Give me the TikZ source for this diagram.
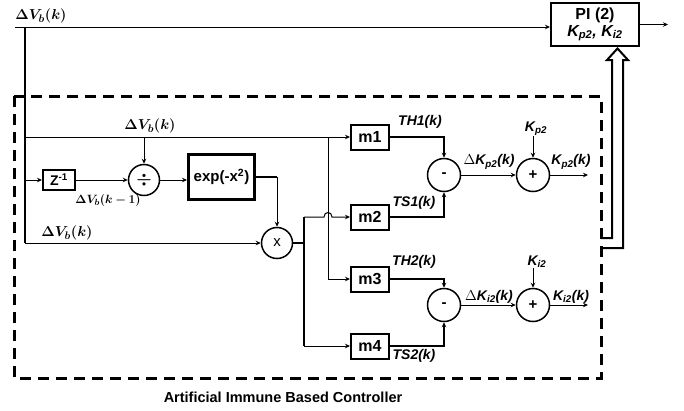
\documentclass[tikz,border=0pt]{standalone}
\usepackage{amsmath}
\usepackage{bm}
\usepackage{fontspec}
\setmainfont{Liberation Sans}
\usepackage{tikz}
\usetikzlibrary{
  positioning,
  arrows.meta,
  calc
}

\begin{document}
\begin{tikzpicture}[
    x=1pt, y=-1pt,
    >={Stealth[length=5pt, width=4.5pt]},
    blk/.style={draw, line width=2pt, minimum width=38pt, minimum height=25pt, inner sep=0pt,
        font=\fontsize{16}{18}\selectfont\bfseries},
    sumc/.style={draw, circle, line width=1.5pt, minimum size=31pt, inner sep=0pt,
        font=\fontsize{15}{16}\selectfont},
    lbl/.style={inner sep=0pt, font=\fontsize{14}{16}\selectfont\bfseries\itshape},
    mlbl/.style={inner sep=0pt, font=\fontsize{15}{16}\selectfont},
    wire/.style={line width=1pt},
    mout/.style={line width=1.6pt},
    bus/.style={line width=2pt}
]
    \useasboundingbox (0,0) rectangle (684,410);

    % 虚线框
    \coordinate (dbNW) at (14,96);
    \coordinate (dbSE) at (601,378);
    \draw[line width=3pt, dash pattern=on 11pt off 7pt] (dbNW) rectangle (dbSE);
    \node[font=\fontsize{14.5}{16}\selectfont\bfseries] (cap) at (283,397) {Artificial Immune Based Controller};

    % PI 控制器
    \node[blk, minimum width=88pt, minimum height=43pt, align=center] (pi) at (595,24.5)
        {PI (2)\\[-1pt]{\itshape K\textsubscript{p2}, K\textsubscript{i2}}};
    \coordinate (inT) at (15,27);
    \coordinate (cT) at (25,27);
    \coordinate (cB) at (25,243);
    \coordinate (out) at (668,24.5);
    \node[mlbl] (vtop) at (41,16) {$\bm{\Delta V_b(k)}$};
    \draw[wire,->] (inT) -- (inT -| pi.west);
    \draw[wire,->] (pi.east) -- (out);
    \draw[bus] (cT) -- (cB);

    % 方块与求和点
    \node[blk, minimum width=32pt, minimum height=20pt, font=\fontsize{14}{16}\selectfont\bfseries] (z) at (59,180) {Z\textsuperscript{-1}};
    \node[sumc] (dv) at (144,180) {\fontsize{19}{20}\selectfont$\bm{\div}$};
    \node[blk, line width=3pt, minimum width=66pt, minimum height=45pt, font=\fontsize{15}{16}\selectfont\bfseries] (ex) at (221.5,177) {exp(-x\textsuperscript{2})};
    \node[sumc] (mul) at (277,243) {x};
    \node[blk] (m1) at (370,137) {m1};
    \node[blk] (m2) at (370,217) {m2};
    \node[blk] (m3) at (370,279) {m3};
    \node[blk] (m4) at (370,346) {m4};
    \node[sumc, minimum size=33pt] (d1) at (444,175) {\bfseries -};
    \node[sumc, minimum size=33pt] (s1) at (533,175) {\bfseries +};
    \node[sumc, minimum size=33pt] (d2) at (444,305) {\bfseries -};
    \node[sumc, minimum size=33pt] (s2) at (533,305) {\bfseries +};

    % 输入信号
    \coordinate (b2) at (328,137);
    \node[mlbl] (v3) at (150,126) {$\bm{\Delta V_b(k)}$};
    \node[mlbl] (v2) at (67,233) {$\bm{\Delta V_b(k)}$};
    \node[mlbl, font=\fontsize{12.5}{14}\selectfont] (v1) at (108,200) {$\bm{\Delta V_b(k-1)}$};
    \draw[wire,->] (cT |- m1) -- (m1.west);
    \draw[wire,->] (dv.north |- m1) -- (dv.north);
    \draw[wire,->] (b2) -- (b2 |- m3) -- (m3.west);
    \draw[wire,->] (cT |- z) -- (z.west);
    \draw[wire,->] (z) -- (dv);
    \draw[wire,->] (dv.east) -- (dv.east -| ex.west);
    \draw[bus] (ex.east) -- (ex.east -| mul.north) coordinate (ec);
    \draw[wire,->] (ec) -- (mul.north);
    \draw[wire,->] (cB) -- (mul.west);

    % 乘法器输出
    \coordinate (j) at (304,243);
    \draw[bus] (mul.east) -- (j);
    \draw[bus] (j |- m2) -- (j |- m4);
    \draw[wire,->] (j |- m4) -- (m4.west);
    \draw[wire,->] (j |- m2) -- ($(b2 |- m2)+(-4,0)$) .. controls +(0,-6) and +(0,-6) .. ($(b2 |- m2)+(4,0)$) -- (m2.west);

    % 阈值与增益
    \draw[mout,->] (m1.east) -| (d1.north);
    \draw[mout,->] (m2.east) -| (d1.south);
    \draw[mout,->] (m3.east) -| (d2.north);
    \draw[mout,->] (m4.east) -| (d2.south);
    \node[lbl] (th1) at (420,122) {TH1(k)};
    \node[lbl] (ts1) at (414,203) {TS1(k)};
    \node[lbl] (th2) at (414,262) {TH2(k)};
    \node[lbl] (ts2) at (414,356) {TS2(k)};

    \node[lbl] (kp) at (536,129) {K\textsubscript{p2}};
    \node[lbl] (ki) at (537,262) {K\textsubscript{i2}};
    \node[lbl] (dkp) at (489,162) {$\Delta$K\textsubscript{p2}(k)};
    \node[lbl] (dki) at (489,297) {$\Delta$K\textsubscript{i2}(k)};
    \node[lbl] (kpo) at (571,162) {K\textsubscript{p2}(k)};
    \node[lbl] (kio) at (571,297) {K\textsubscript{i2}(k)};
    \coordinate (o1) at (588,175);
    \coordinate (o2) at (588,305);
    \draw[wire,->] (d1) -- (s1);
    \draw[wire,->] (d2) -- (s2);
    \draw[wire,->] (s1.north |- kp.south) -- (s1.north);
    \draw[wire,->] (s2.north |- ki.south) -- (s2.north);
    \draw[wire,->] (s1) -- (o1);
    \draw[wire,->] (s2) -- (o2);

    % 空心箭头
    \def\aL{612}
    \def\aR{623}
    \draw[line width=2pt, line join=miter] (dbSE |- 0,238) -- (\aL,238) -- (\aL,60) -- (607,60)
        -- (617.5,48.5) -- (628,60) -- (\aR,60) -- (\aR,248) -- (dbSE |- 0,248);
\end{tikzpicture}
\end{document}
